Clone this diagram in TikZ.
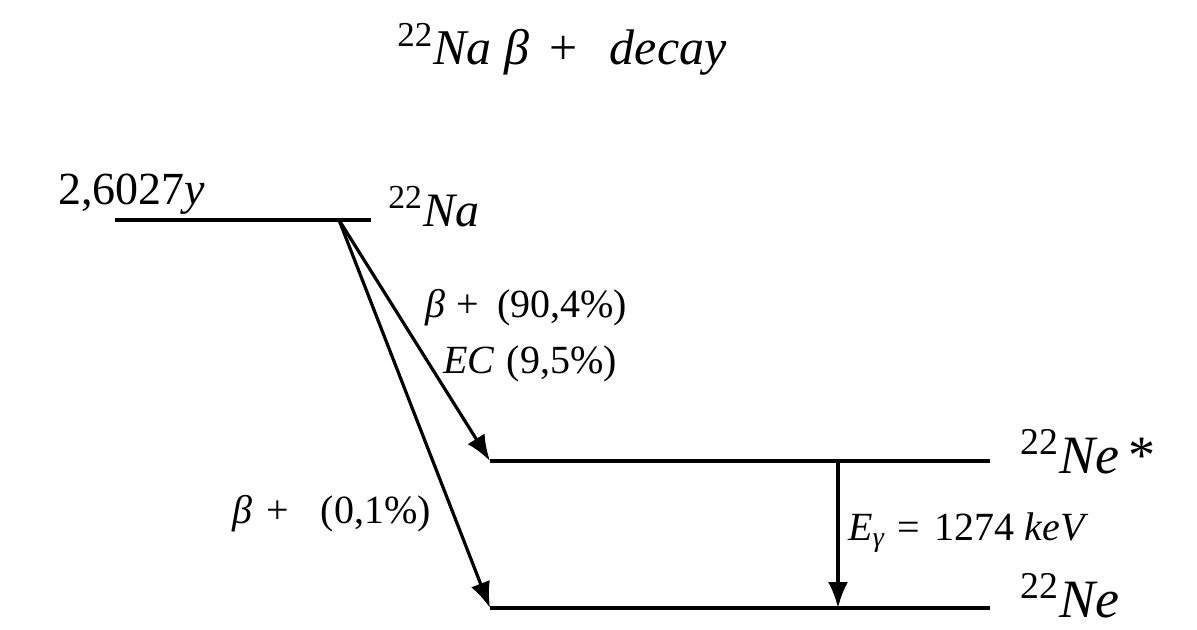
\documentclass[tikz,border=0pt]{standalone}
\usepackage{fontspec}
\setmainfont{Liberation Serif}
\usetikzlibrary{arrows.meta,positioning}

\begin{document}
\begin{tikzpicture}[
  x=0.5pt,y=-0.5pt,
  level/.style={line width=2.2pt},
  trans/.style={-{Latex[length=13pt,width=10pt]},line width=1.6pt},
  lbl/.style={inner sep=0pt,anchor=base west,font=\fontsize{20}{24}\selectfont},
  nuc/.style={inner sep=0pt,anchor=base west,font=\fontsize{27}{32}\selectfont}
]
\useasboundingbox (0,0) rectangle (1197,630);
% energy levels
\coordinate (na-l) at (115,220);
\coordinate (na-r) at (371,220);
\coordinate (na-src) at (339,220);
\coordinate (nex-l) at (490,461);
\coordinate (nex-r) at (990,461);
\coordinate (ne-l) at (490,608);
\coordinate (ne-r) at (990,608);
\coordinate (gam-top) at (838,461);
\coordinate (gam-bot) at (838,608);
\draw[level](na-l)--(na-r);
\draw[level](nex-l)--(nex-r);
\draw[level](ne-l)--(ne-r);
% transitions
\draw[trans](na-src)--(nex-l);
\draw[trans](na-src)--(ne-l);
\draw[trans](gam-top)--(gam-bot);
% labels
\node[nuc,font=\fontsize{25}{30}\selectfont](title) at (397,65)
  {\textsuperscript{22}\textit{Na}\hspace{0.25em}\textit{β}\hspace{0.4em}+\hspace{0.65em}\textit{decay}};
\node[nuc,font=\fontsize{23}{28}\selectfont](halflife) at (58,205) {2,6027\textit{y}};
\node[nuc,font=\fontsize{24}{28}\selectfont](na) at (388,227) {\textsuperscript{22}\textit{Na}};
\node[nuc](nex) at (1020,473) {\textsuperscript{22}\textit{Ne}\,*};
\node[nuc](ne) at (1020,617) {\textsuperscript{22}\textit{Ne}};
\node[lbl](bp1) at (425,317) {\textit{β}\hspace{0.28em}+\hspace{0.45em}(90,4\%)};
\node[lbl](ec) at (443,373) {\textit{EC}\hspace{0.3em}(9,5\%)};
\node[lbl](bp2) at (232,523) {\textit{β}\hspace{0.35em}+\hspace{0.8em}(0,1\%)};
\node[lbl](egam) at (848,540) {\textit{E}\textsubscript{\textit{γ}}\hspace{0.3em}=\hspace{0.35em}1274\hspace{0.27em}\textit{keV}};
\end{tikzpicture}
\end{document}
